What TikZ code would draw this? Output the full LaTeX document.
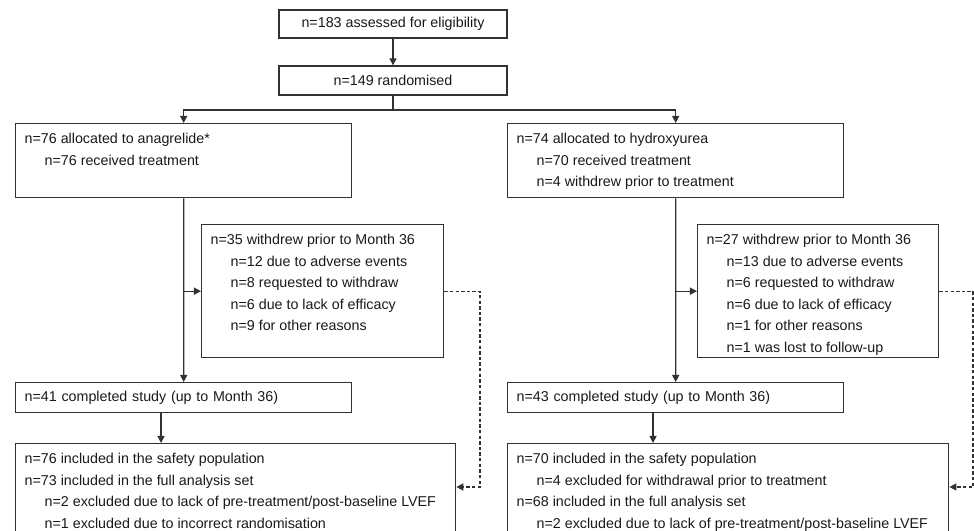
\documentclass[tikz,border=0pt]{standalone}
\usepackage{fontspec}
\setmainfont{Liberation Sans}
\usetikzlibrary{arrows.meta, positioning, calc}
\definecolor{linegray}{RGB}{50, 50, 50}
\definecolor{textgray}{RGB}{25, 25, 25}
\newlength{\pxu}
\setlength{\pxu}{0.025cm}
\newcommand{\flowtext}[3]{\parbox[t][#2\pxu][t]{#1\pxu}{\strut #3}}
\newcommand{\ind}{\hspace*{20\pxu}}

\begin{document}
\begin{tikzpicture}[
  x=0.025cm, y=-0.025cm, font=\fontsize{10.15pt}{15.3pt}\selectfont, text=textgray,
  flowbox/.style={draw=linegray, line width=0.95pt, inner xsep=0.225cm, inner ysep=0.125cm, anchor=north west},
  titlebox/.style={draw=linegray, line width=0.95pt, minimum width=5.7cm, minimum height=0.7cm, inner sep=0pt},
  linebox/.style={draw=linegray, line width=0.95pt, inner xsep=0.225cm, inner ysep=0pt, text width=7.95cm, minimum height=0.75cm, align=left, anchor=north west},
  flowline/.style={draw=linegray, line width=0.95pt},
  dashline/.style={flowline, dash pattern=on 2.4pt off 1.6pt},
  >={Triangle[length=5pt, width=5pt]}
]
\useasboundingbox (0,0) rectangle (974,531);
\clip (0,0) rectangle (974,531);
\node[titlebox] (assess) at (393,24) {n=183 assessed for eligibility};
\node[titlebox, minimum height=0.725cm] (rand) at (393,80.5) {n=149 randomised};
\node[flowbox] (anag) at (15,123) {\flowtext{318}{64}{n=76 allocated to anagrelide*\\\ind n=76 received treatment}};
\node[flowbox] (hydro) at (507,123) {\flowtext{318}{64}{n=74 allocated to hydroxyurea\\\ind n=70 received treatment\\\ind n=4 withdrew prior to treatment}};
\node[flowbox] (wd35) at (201,224) {\flowtext{224}{123}{n=35 withdrew prior to Month 36\\\ind n=12 due to adverse events\\\ind n=8 requested to withdraw\\\ind n=6 due to lack of efficacy\\\ind n=9 for other reasons}};
\node[flowbox] (wd27) at (697,224) {\flowtext{223}{123}{n=27 withdrew prior to Month 36\\\ind n=13 due to adverse events\\\ind n=6 requested to withdraw\\\ind n=6 due to lack of efficacy\\\ind n=1 for other reasons\\\ind n=1 was lost to follow-up}};
\node[linebox] (comp41) at (15,382) {n=41 completed study (up to Month 36)};
\node[linebox] (comp43) at (507,382) {n=43 completed study (up to Month 36)};
\node[flowbox] (analL) at (15,443) {\flowtext{422}{100}{n=76 included in the safety population\\n=73 included in the full analysis set\\\ind n=2 excluded due to lack of pre-treatment/post-baseline LVEF\\\ind n=1 excluded due to incorrect randomisation}};
\node[flowbox] (analR) at (507,443) {\flowtext{423}{100}{n=70 included in the safety population\\\ind n=4 excluded for withdrawal prior to treatment\\n=68 included in the full analysis set\\\ind n=2 excluded due to lack of pre-treatment/post-baseline LVEF}};
\coordinate (split) at (393,110);
\coordinate (turnL) at (480,487);
\coordinate (turnR) at (973,487);
\draw[flowline, ->] (assess) -- (rand);
\draw[flowline] (rand) -- (split);
\draw[flowline, ->] (split) -| (anag);
\draw[flowline, ->] (split) -| (hydro);
\draw[flowline, ->] (anag) -- (comp41);
\draw[flowline, ->] (hydro) -- (comp43);
\draw[flowline, ->] (anag.south |- wd35.west) -- (wd35.west);
\draw[flowline, ->] (hydro.south |- wd27.west) -- (wd27.west);
\draw[flowline, ->] ([xshift=3.65cm]comp41.south west) -- ([xshift=3.65cm]comp41.south west |- analL.north);
\draw[flowline, ->] ([xshift=3.65cm]comp43.south west) -- ([xshift=3.65cm]comp43.south west |- analR.north);
\draw[dashline, ->] (wd35.east) -| (turnL) -- (turnL -| analL.east);
\draw[dashline, ->] (wd27.east) -| (turnR) -- (turnR -| analR.east);
\end{tikzpicture}
\end{document}
